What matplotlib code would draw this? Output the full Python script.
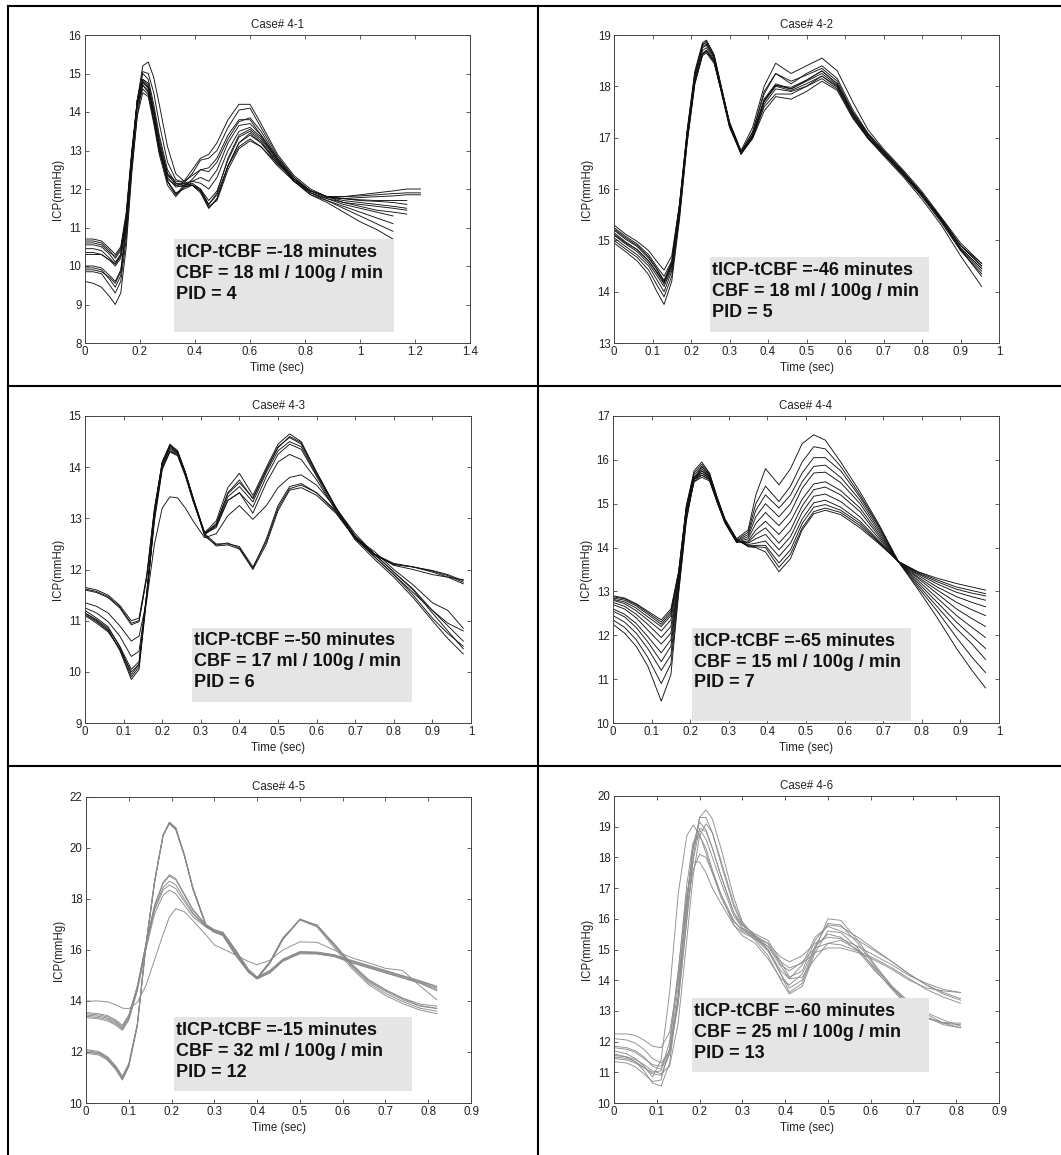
import numpy as np
import matplotlib
matplotlib.use('Agg')
import matplotlib.pyplot as plt
from matplotlib.patches import Rectangle
from matplotlib.lines import Line2D
from matplotlib.ticker import FuncFormatter

plt.rcParams['font.family'] = ['Liberation Sans', 'DejaVu Sans']
nan = np.nan

# ---------------- data ----------------
titles = ["Case# 4-1", "Case# 4-2", "Case# 4-3", "Case# 4-4", "Case# 4-5", "Case# 4-6"]
notes = [
    ["tICP-tCBF =-18 minutes", "CBF = 18 ml / 100g / min", "PID = 4"],
    ["tICP-tCBF =-46 minutes", "CBF = 18 ml / 100g / min", "PID = 5"],
    ["tICP-tCBF =-50 minutes", "CBF = 17 ml / 100g / min", "PID = 6"],
    ["tICP-tCBF =-65 minutes", "CBF = 15 ml / 100g / min", "PID = 7"],
    ["tICP-tCBF =-15 minutes", "CBF = 32 ml / 100g / min", "PID = 12"],
    ["tICP-tCBF =-60 minutes", "CBF = 25 ml / 100g / min", "PID = 13"],
]
x_label = "Time (sec)"
y_label = "ICP(mmHg)"

# Case 4-1
t1 = [0, 0.03, 0.06, 0.09, 0.11, 0.13, 0.15, 0.17, 0.19, 0.21, 0.23, 0.25, 0.27, 0.30, 0.33, 0.36, 0.39,
      0.42, 0.45, 0.48, 0.52, 0.56, 0.60, 0.64, 0.70, 0.76, 0.82, 0.88, 0.94, 1.00, 1.06, 1.12, 1.17, 1.22]
icp1 = [
    [10.7, 10.7, 10.65, 10.45, 10.3, 10.5, 11.4, 13.0, 14.3, 14.8, 14.6, 13.9, 13.1, 12.3, 12.05, 12.1, 12.1, 11.95, 11.6, 11.85, 12.6, 13.1, 13.3, 13.1, 12.6, 12.2, 11.95, 11.8, 11.8, 11.85, 11.9, 11.95, 12.0, 12.0],
    [10.65, 10.65, 10.6, 10.4, 10.2, 10.4, 11.3, 12.9, 14.2, 14.7, 14.5, 13.8, 13.0, 12.25, 12.1, 12.15, 12.1, 11.9, 11.5, 11.75, 12.6, 13.2, 13.45, 13.2, 12.65, 12.25, 11.95, 11.78, 11.75, 11.78, 11.8, 11.82, 11.85, 11.85],
    [10.55, 10.55, 10.5, 10.3, 10.1, 10.3, 11.2, 12.9, 14.3, 14.85, 14.7, 14.0, 13.2, 12.4, 12.2, 12.2, 12.35, 12.5, 12.45, 12.7, 13.3, 13.75, 13.85, 13.5, 12.8, 12.3, 11.95, 11.8, 11.7, 11.65, 11.6, 11.55, 11.5, nan],
    [10.45, 10.45, 10.4, 10.2, 10.05, 10.25, 11.1, 12.7, 14.3, 15.2, 15.3, 14.9, 14.2, 13.1, 12.4, 12.2, 12.5, 12.8, 12.9, 13.2, 13.8, 14.2, 14.2, 13.7, 12.9, 12.35, 12.0, 11.8, 11.65, 11.55, 11.45, 11.4, 11.35, nan],
    [10.35, 10.35, 10.3, 10.15, 10.0, 10.2, 11.1, 12.8, 14.3, 15.05, 15.0, 14.5, 13.7, 12.7, 12.25, 12.15, 12.4, 12.75, 12.8, 13.0, 13.6, 14.05, 14.1, 13.6, 12.85, 12.3, 11.95, 11.8, 11.75, 11.7, 11.68, 11.65, 11.6, nan],
    [10.3, 10.3, 10.3, 10.15, 10.05, 10.3, 11.3, 12.9, 14.1, 14.6, 14.45, 13.8, 13.0, 12.2, 11.9, 12.0, 12.1, 11.95, 11.55, 11.7, 12.5, 13.05, 13.25, 13.1, 12.65, 12.25, 11.95, 11.8, 11.8, 11.82, 11.85, 11.88, 11.9, 11.9],
    [10.0, 10.0, 9.95, 9.75, 9.6, 9.9, 11.0, 12.8, 14.2, 14.7, 14.55, 13.85, 13.0, 12.2, 11.85, 12.1, 12.15, 12.0, 11.7, 11.95, 12.75, 13.35, 13.5, 13.25, 12.7, 12.2, 11.9, 11.75, 11.6, 11.5, 11.4, 11.3, nan, nan],
    [9.95, 9.95, 9.9, 9.65, 9.45, 9.75, 10.9, 12.7, 14.2, 14.85, 14.75, 14.1, 13.3, 12.4, 12.1, 12.05, 12.25, 12.5, 12.55, 12.8, 13.4, 13.8, 13.8, 13.4, 12.75, 12.2, 11.85, 11.7, 11.55, 11.4, 11.25, 11.1, nan, nan],
    [9.85, 9.85, 9.8, 9.5, 9.3, 9.6, 10.7, 12.5, 13.9, 14.5, 14.4, 13.7, 12.9, 12.1, 11.8, 12.05, 12.1, 11.95, 11.5, 11.75, 12.6, 13.2, 13.4, 13.2, 12.7, 12.2, 11.9, 11.7, 11.5, 11.3, 11.1, 10.9, nan, nan],
    [9.6, 9.55, 9.45, 9.2, 9.0, 9.3, 10.5, 12.4, 13.9, 14.75, 14.65, 14.0, 13.1, 12.2, 11.85, 12.05, 12.1, 12.0, 11.6, 11.9, 12.8, 13.4, 13.55, 13.3, 12.75, 12.2, 11.85, 11.65, 11.4, 11.15, 10.95, 10.7, nan, nan],
    [10.6, 10.6, 10.55, 10.35, 10.25, 10.45, 11.3, 12.9, 14.25, 14.8, 14.65, 13.95, 13.15, 12.35, 12.15, 12.15, 12.2, 12.15, 12.0, 12.3, 13.0, 13.5, 13.6, 13.35, 12.75, 12.25, 11.95, 11.8, 11.75, 11.72, 11.7, 11.7, 11.7, nan],
    [9.9, 9.9, 9.85, 9.7, 9.55, 9.85, 11.0, 12.8, 14.3, 15.0, 14.85, 14.2, 13.4, 12.5, 12.15, 12.1, 12.2, 12.3, 12.2, 12.5, 13.2, 13.65, 13.7, 13.4, 12.8, 12.25, 11.9, 11.75, 11.65, 11.6, 11.55, 11.5, 11.45, nan],
]

# Case 4-2
t2 = [0, 0.03, 0.06, 0.09, 0.11, 0.13, 0.15, 0.17, 0.19, 0.21, 0.23, 0.24, 0.26, 0.28, 0.30, 0.33,
      0.36, 0.39, 0.42, 0.46, 0.50, 0.54, 0.58, 0.62, 0.66, 0.70, 0.75, 0.80, 0.85, 0.90, 0.955]
icp2 = [
    [15.3, 15.12, 14.98, 14.8, 14.6, 14.42, 14.7, 15.7, 17.05, 18.1, 18.62, 18.7, 18.5, 17.9, 17.3, 16.75, 17.2, 18.0, 18.45, 18.25, 18.4, 18.55, 18.3, 17.7, 17.15, 16.78, 16.38, 15.95, 15.45, 14.95, 14.55],
    [15.25, 15.08, 14.93, 14.72, 14.5, 14.3, 14.6, 15.7, 17.15, 18.3, 18.85, 18.9, 18.62, 17.95, 17.3, 16.72, 17.12, 17.9, 18.25, 18.1, 18.22, 18.35, 18.1, 17.5, 17.05, 16.72, 16.32, 15.9, 15.42, 14.9, 14.5],
    [15.2, 15.02, 14.88, 14.65, 14.45, 14.2, 14.55, 15.65, 17.1, 18.22, 18.8, 18.88, 18.6, 17.93, 17.27, 16.7, 17.05, 17.75, 18.05, 17.95, 18.1, 18.25, 18.02, 17.45, 17.0, 16.68, 16.28, 15.86, 15.38, 14.85, 14.45],
    [15.15, 14.97, 14.82, 14.6, 14.38, 14.15, 14.5, 15.6, 17.05, 18.2, 18.75, 18.8, 18.55, 17.9, 17.25, 16.68, 17.02, 17.7, 18.0, 17.92, 18.05, 18.2, 17.98, 17.42, 17.0, 16.7, 16.3, 15.87, 15.38, 14.82, 14.4],
    [15.1, 14.93, 14.78, 14.55, 14.33, 14.1, 14.45, 15.55, 17.0, 18.15, 18.7, 18.75, 18.52, 17.9, 17.25, 16.7, 17.0, 17.65, 17.95, 17.9, 18.0, 18.15, 17.95, 17.4, 16.98, 16.68, 16.28, 15.85, 15.35, 14.8, 14.35],
    [15.05, 14.88, 14.72, 14.5, 14.25, 14.0, 14.4, 15.5, 16.95, 18.1, 18.65, 18.7, 18.48, 17.85, 17.22, 16.68, 17.05, 17.72, 18.02, 17.98, 18.12, 18.3, 18.05, 17.5, 17.08, 16.75, 16.35, 15.9, 15.42, 14.9, 14.5],
    [15.0, 14.83, 14.67, 14.42, 14.15, 13.9, 14.3, 15.45, 16.9, 18.05, 18.6, 18.65, 18.45, 17.85, 17.2, 16.7, 17.0, 17.6, 17.85, 17.85, 18.0, 18.2, 18.0, 17.45, 17.05, 16.72, 16.33, 15.9, 15.4, 14.82, 14.3],
    [14.95, 14.78, 14.6, 14.33, 14.02, 13.75, 14.2, 15.4, 16.9, 18.05, 18.62, 18.68, 18.48, 17.88, 17.22, 16.68, 16.98, 17.52, 17.8, 17.75, 17.9, 18.1, 17.92, 17.38, 16.98, 16.65, 16.25, 15.8, 15.3, 14.7, 14.1],
    [15.22, 15.05, 14.9, 14.68, 14.46, 14.22, 14.58, 15.68, 17.12, 18.25, 18.82, 18.85, 18.6, 17.95, 17.3, 16.72, 17.1, 17.85, 18.25, 18.05, 18.25, 18.4, 18.15, 17.55, 17.08, 16.75, 16.35, 15.92, 15.43, 14.9, 14.55],
    [15.12, 14.95, 14.82, 14.6, 14.4, 14.18, 14.52, 15.62, 17.08, 18.2, 18.78, 18.82, 18.57, 17.92, 17.27, 16.7, 17.05, 17.72, 18.02, 17.95, 18.12, 18.3, 18.05, 17.47, 17.02, 16.7, 16.3, 15.88, 15.4, 14.85, 14.45],
]

# Case 4-3
t3 = [0, 0.03, 0.06, 0.09, 0.12, 0.14, 0.16, 0.18, 0.20, 0.22, 0.24, 0.26, 0.28, 0.31, 0.34, 0.37,
      0.40, 0.435, 0.47, 0.50, 0.53, 0.56, 0.60, 0.65, 0.70, 0.75, 0.80, 0.85, 0.90, 0.94, 0.98]
icp3 = [
    [11.65, 11.6, 11.5, 11.3, 11.0, 11.05, 11.9, 13.2, 14.1, 14.43, 14.3, 13.9, 13.4, 12.7, 12.5, 12.5, 12.45, 12.05, 12.55, 13.2, 13.58, 13.65, 13.5, 13.15, 12.65, 12.3, 12.1, 12.05, 11.97, 11.88, 11.75],
    [11.6, 11.55, 11.45, 11.25, 10.92, 10.98, 11.85, 13.15, 14.05, 14.4, 14.28, 13.88, 13.38, 12.65, 12.48, 12.52, 12.42, 12.02, 12.6, 13.25, 13.62, 13.68, 13.5, 13.12, 12.62, 12.28, 12.1, 12.05, 11.98, 11.9, 11.78],
    [11.62, 11.57, 11.47, 11.27, 10.95, 11.0, 11.85, 13.18, 14.08, 14.42, 14.3, 13.9, 13.4, 12.68, 12.46, 12.48, 12.4, 12.0, 12.5, 13.15, 13.55, 13.6, 13.45, 13.1, 12.6, 12.3, 12.12, 12.05, 11.95, 11.85, 11.72],
    [11.35, 11.28, 11.15, 10.9, 10.6, 10.7, 11.4, 12.5, 13.2, 13.42, 13.4, 13.2, 12.95, 12.62, 12.7, 13.05, 13.25, 12.98, 13.25, 13.6, 13.8, 13.85, 13.65, 13.2, 12.7, 12.3, 12.08, 12.0, 11.9, 11.85, 11.8],
    [11.25, 11.15, 10.98, 10.7, 10.3, 10.4, 11.5, 12.95, 13.95, 14.3, 14.25, 13.88, 13.38, 12.72, 12.85, 13.35, 13.5, 13.1, 13.7, 14.1, 14.25, 14.15, 13.75, 13.15, 12.6, 12.25, 11.9, 11.55, 11.2, 10.95, 10.8],
    [11.2, 11.05, 10.88, 10.5, 9.95, 10.15, 11.55, 13.1, 14.1, 14.45, 14.32, 13.9, 13.4, 12.72, 12.95, 13.6, 13.88, 13.45, 14.0, 14.45, 14.65, 14.5, 13.9, 13.2, 12.62, 12.25, 11.9, 11.5, 11.05, 10.75, 10.5],
    [11.15, 11.0, 10.82, 10.42, 9.85, 10.05, 11.45, 13.05, 14.05, 14.38, 14.28, 13.88, 13.38, 12.7, 12.9, 13.5, 13.75, 13.38, 13.95, 14.4, 14.58, 14.45, 13.88, 13.2, 12.65, 12.3, 11.95, 11.6, 11.15, 10.8, 10.45],
    [11.12, 10.98, 10.8, 10.45, 9.9, 10.1, 11.5, 13.05, 14.0, 14.32, 14.25, 13.85, 13.35, 12.68, 12.85, 13.42, 13.62, 13.32, 13.9, 14.32, 14.5, 14.4, 13.85, 13.2, 12.65, 12.3, 11.95, 11.62, 11.2, 10.9, 10.6],
    [11.1, 10.95, 10.78, 10.45, 10.0, 10.15, 11.5, 13.0, 13.98, 14.3, 14.22, 13.82, 13.33, 12.7, 12.82, 13.35, 13.5, 13.22, 13.82, 14.25, 14.45, 14.35, 13.82, 13.15, 12.58, 12.2, 11.85, 11.45, 11.0, 10.65, 10.35],
    [11.15, 11.02, 10.85, 10.5, 10.05, 10.2, 11.55, 13.1, 14.05, 14.35, 14.27, 13.87, 13.37, 12.7, 12.88, 13.48, 13.7, 13.4, 13.95, 14.38, 14.6, 14.48, 13.9, 13.22, 12.62, 12.35, 12.0, 11.7, 11.35, 11.2, 10.85],
]

# Case 4-4
t4 = [0, 0.03, 0.06, 0.09, 0.125, 0.15, 0.17, 0.19, 0.21, 0.23, 0.25, 0.27, 0.29, 0.32, 0.35, 0.37,
      0.395, 0.43, 0.46, 0.49, 0.52, 0.55, 0.59, 0.64, 0.69, 0.74, 0.79, 0.84, 0.89, 0.93, 0.965]
icp4 = [
    [12.9, 12.85, 12.72, 12.55, 12.35, 12.6, 13.45, 14.95, 15.75, 15.95, 15.7, 15.15, 14.65, 14.2, 14.02, 14.0, 13.9, 13.45, 13.75, 14.4, 14.77, 14.85, 14.75, 14.45, 14.08, 13.68, 13.45, 13.3, 13.18, 13.1, 13.03],
    [12.88, 12.83, 12.7, 12.52, 12.3, 12.55, 13.45, 14.95, 15.7, 15.9, 15.68, 15.13, 14.63, 14.18, 14.03, 14.02, 14.0, 13.55, 13.85, 14.45, 14.82, 14.9, 14.8, 14.5, 14.1, 13.68, 13.44, 13.26, 13.1, 13.02, 12.95],
    [12.85, 12.8, 12.67, 12.48, 12.25, 12.5, 13.4, 14.9, 15.65, 15.85, 15.65, 15.1, 14.62, 14.17, 14.05, 14.05, 14.05, 13.65, 13.95, 14.55, 14.92, 14.98, 14.85, 14.55, 14.12, 13.67, 13.42, 13.22, 13.05, 12.96, 12.9],
    [12.82, 12.76, 12.62, 12.42, 12.2, 12.45, 13.4, 14.9, 15.6, 15.8, 15.62, 15.08, 14.6, 14.15, 14.07, 14.1, 14.15, 13.8, 14.1, 14.65, 15.02, 15.08, 14.92, 14.6, 14.15, 13.67, 13.4, 13.17, 12.98, 12.88, 12.8],
    [12.8, 12.72, 12.56, 12.35, 12.1, 12.35, 13.35, 14.85, 15.6, 15.75, 15.6, 15.07, 14.6, 14.15, 14.1, 14.2, 14.3, 13.95, 14.25, 14.8, 15.17, 15.22, 15.05, 14.7, 14.2, 13.67, 13.37, 13.1, 12.88, 12.75, 12.65],
    [12.75, 12.66, 12.48, 12.25, 11.95, 12.2, 13.3, 14.85, 15.55, 15.7, 15.57, 15.05, 14.58, 14.13, 14.12, 14.3, 14.45, 14.1, 14.4, 14.95, 15.32, 15.38, 15.2, 14.82, 14.25, 13.67, 13.33, 13.03, 12.75, 12.58, 12.45],
    [12.7, 12.6, 12.4, 12.12, 11.8, 12.05, 13.25, 14.8, 15.55, 15.65, 15.55, 15.03, 14.57, 14.12, 14.15, 14.4, 14.6, 14.3, 14.6, 15.1, 15.45, 15.5, 15.3, 14.9, 14.3, 13.67, 13.3, 12.95, 12.6, 12.38, 12.2],
    [12.6, 12.48, 12.27, 11.97, 11.6, 11.9, 13.2, 14.75, 15.5, 15.6, 15.52, 15.02, 14.56, 14.12, 14.2, 14.55, 14.8, 14.5, 14.8, 15.35, 15.7, 15.72, 15.48, 15.0, 14.35, 13.67, 13.25, 12.85, 12.45, 12.18, 11.95],
    [12.55, 12.42, 12.18, 11.85, 11.4, 11.75, 13.15, 14.7, 15.5, 15.65, 15.55, 15.05, 14.58, 14.13, 14.25, 14.7, 15.0, 14.7, 15.0, 15.5, 15.85, 15.88, 15.6, 15.08, 14.4, 13.67, 13.2, 12.75, 12.3, 11.98, 11.7],
    [12.45, 12.3, 12.05, 11.7, 11.2, 11.55, 13.1, 14.7, 15.55, 15.7, 15.58, 15.08, 14.6, 14.15, 14.3, 14.85, 15.2, 14.9, 15.2, 15.7, 16.05, 16.05, 15.75, 15.15, 14.45, 13.67, 13.15, 12.65, 12.15, 11.8, 11.45],
    [12.35, 12.18, 11.9, 11.5, 10.9, 11.35, 13.0, 14.65, 15.55, 15.75, 15.62, 15.1, 14.62, 14.17, 14.35, 15.0, 15.4, 15.05, 15.4, 15.95, 16.3, 16.25, 15.85, 15.2, 14.48, 13.67, 13.1, 12.55, 11.95, 11.5, 11.15],
    [12.25, 12.05, 11.75, 11.3, 10.5, 11.1, 12.95, 14.6, 15.55, 15.85, 15.65, 15.12, 14.65, 14.2, 14.4, 15.2, 15.8, 15.43, 15.8, 16.37, 16.57, 16.45, 15.95, 15.27, 14.51, 13.67, 13.05, 12.4, 11.7, 11.2, 10.8],
]

# Case 4-5
t5 = [0, 0.03, 0.05, 0.07, 0.085, 0.1, 0.12, 0.14, 0.16, 0.18, 0.195, 0.21, 0.23, 0.25, 0.28, 0.30,
      0.32, 0.35, 0.38, 0.40, 0.43, 0.46, 0.50, 0.54, 0.58, 0.62, 0.66, 0.70, 0.74, 0.78, 0.82]
icp5 = [
    [12.05, 11.98, 11.78, 11.4, 11.0, 11.5, 13.1, 16.2, 18.65, 20.45, 20.98, 20.75, 19.72, 18.42, 17.0, 16.72, 16.6, 15.82, 15.15, 14.9, 15.52, 16.45, 17.2, 16.98, 16.22, 15.42, 14.78, 14.38, 14.05, 13.8, 13.7],
    [12.0, 11.93, 11.72, 11.33, 10.92, 11.45, 13.05, 16.15, 18.62, 20.5, 21.02, 20.78, 19.7, 18.38, 16.95, 16.7, 16.56, 15.78, 15.12, 14.86, 15.5, 16.42, 17.22, 16.95, 16.18, 15.38, 14.72, 14.3, 13.98, 13.72, 13.6],
    [11.95, 11.88, 11.68, 11.3, 10.9, 11.42, 13.0, 16.1, 18.6, 20.48, 21.0, 20.8, 19.75, 18.45, 17.02, 16.75, 16.62, 15.85, 15.18, 14.92, 15.55, 16.48, 17.18, 16.9, 16.1, 15.3, 14.65, 14.22, 13.9, 13.65, 13.5],
    [12.1, 12.02, 11.82, 11.45, 11.05, 11.55, 13.1, 16.22, 18.7, 20.52, 20.95, 20.7, 19.68, 18.38, 16.98, 16.7, 16.58, 15.8, 15.14, 14.88, 15.48, 16.4, 17.18, 16.98, 16.25, 15.48, 14.85, 14.45, 14.12, 13.88, 13.8],
    [12.0, 11.95, 11.76, 11.38, 10.98, 11.48, 13.05, 16.18, 18.65, 20.48, 20.97, 20.74, 19.7, 18.4, 16.97, 16.72, 16.6, 15.82, 15.16, 14.9, 15.5, 16.44, 17.2, 16.95, 16.2, 15.42, 14.8, 14.42, 14.1, 13.82, 13.72],
    [13.55, 13.5, 13.43, 13.25, 13.05, 13.45, 14.6, 16.2, 17.6, 18.45, 18.7, 18.55, 18.0, 17.45, 16.95, 16.75, 16.65, 15.95, 15.2, 14.9, 15.15, 15.6, 15.9, 15.88, 15.78, 15.55, 15.35, 15.15, 14.95, 14.75, 14.5],
    [13.45, 13.4, 13.33, 13.15, 12.95, 13.35, 14.5, 16.2, 17.7, 18.6, 18.9, 18.75, 18.15, 17.55, 16.98, 16.78, 16.68, 15.98, 15.22, 14.92, 15.18, 15.62, 15.92, 15.9, 15.8, 15.58, 15.38, 15.18, 14.98, 14.78, 14.55],
    [13.4, 13.35, 13.28, 13.1, 12.9, 13.3, 14.45, 16.1, 17.55, 18.35, 18.55, 18.4, 17.9, 17.4, 16.92, 16.72, 16.62, 15.92, 15.18, 14.88, 15.12, 15.58, 15.88, 15.86, 15.76, 15.52, 15.32, 15.12, 14.92, 14.72, 14.45],
    [13.35, 13.3, 13.22, 13.05, 12.85, 13.25, 14.4, 16.0, 17.4, 18.15, 18.35, 18.2, 17.75, 17.3, 16.9, 16.7, 16.6, 15.9, 15.16, 14.86, 15.1, 15.55, 15.85, 15.84, 15.74, 15.5, 15.3, 15.1, 14.9, 14.7, 14.4],
    [13.5, 13.45, 13.38, 13.2, 13.0, 13.4, 14.55, 16.25, 17.75, 18.65, 18.95, 18.8, 18.2, 17.6, 17.0, 16.8, 16.7, 16.0, 15.24, 14.94, 15.2, 15.64, 15.94, 15.92, 15.82, 15.6, 15.4, 15.2, 15.0, 14.8, 14.58],
    [14.0, 14.0, 13.97, 13.85, 13.72, 13.7, 13.95, 14.6, 15.6, 16.6, 17.3, 17.62, 17.5, 17.15, 16.6, 16.2, 16.05, 15.8, 15.55, 15.42, 15.6, 16.0, 16.32, 16.3, 16.0, 15.7, 15.5, 15.28, 15.2, 14.6, 14.05],
]

# Case 4-6
t6 = [0, 0.03, 0.05, 0.07, 0.09, 0.11, 0.13, 0.15, 0.17, 0.185, 0.20, 0.215, 0.23, 0.25, 0.28, 0.30,
      0.33, 0.36, 0.39, 0.41, 0.44, 0.47, 0.50, 0.53, 0.57, 0.61, 0.65, 0.69, 0.73, 0.77, 0.81]
icp6 = [
    [12.25, 12.25, 12.2, 12.05, 11.85, 11.8, 12.3, 14.0, 16.3, 17.6, 18.1, 18.0, 17.5, 16.8, 15.95, 15.6, 15.4, 15.2, 14.75, 14.6, 14.8, 15.2, 15.4, 15.35, 15.1, 14.8, 14.5, 14.15, 13.9, 13.7, 13.6],
    [12.1, 12.05, 11.95, 11.75, 11.45, 11.3, 11.7, 13.4, 16.4, 18.3, 19.3, 19.55, 19.25, 18.3, 16.7, 15.9, 15.4, 15.0, 14.2, 13.6, 13.9, 15.0, 16.0, 15.95, 15.3, 14.5, 13.8, 13.2, 12.8, 12.55, 12.45],
    [11.85, 11.8, 11.7, 11.5, 11.2, 11.1, 11.6, 13.2, 16.0, 18.0, 19.3, 19.3, 18.8, 17.8, 16.4, 15.8, 15.35, 14.95, 14.2, 13.75, 14.0, 15.1, 15.85, 15.8, 15.2, 14.45, 13.75, 13.15, 12.8, 12.6, 12.55],
    [11.7, 11.6, 11.45, 11.2, 10.85, 11.4, 13.6, 16.8, 18.7, 19.05, 18.75, 18.15, 17.5, 16.7, 15.9, 15.65, 15.45, 15.0, 14.3, 14.05, 14.5, 15.4, 15.75, 15.6, 15.3, 14.95, 14.6, 14.2, 13.85, 13.6, 13.4],
    [11.6, 11.5, 11.35, 11.05, 10.65, 10.55, 11.3, 13.5, 16.6, 18.4, 19.15, 18.9, 18.3, 17.4, 16.2, 15.7, 15.3, 14.8, 14.0, 13.55, 13.8, 14.9, 15.6, 15.55, 15.05, 14.35, 13.7, 13.1, 12.75, 12.62, 12.6],
    [11.5, 11.45, 11.35, 11.15, 10.95, 10.9, 11.6, 13.8, 16.6, 18.3, 18.9, 18.6, 18.0, 17.2, 16.1, 15.7, 15.45, 15.2, 14.5, 14.3, 14.6, 15.05, 15.2, 15.15, 14.95, 14.7, 14.4, 14.05, 13.7, 13.45, 13.25],
    [11.45, 11.4, 11.3, 11.15, 11.0, 11.05, 12.0, 14.3, 16.8, 17.85, 17.85, 17.5, 17.0, 16.5, 15.8, 15.55, 15.35, 15.1, 14.6, 14.4, 14.55, 14.9, 15.05, 15.05, 14.9, 14.65, 14.35, 14.0, 13.75, 13.65, 13.6],
    [11.35, 11.3, 11.18, 10.95, 10.7, 10.75, 11.8, 14.2, 17.1, 18.5, 18.7, 18.3, 17.6, 16.8, 15.8, 15.45, 15.2, 14.7, 14.05, 13.85, 14.2, 15.1, 15.5, 15.4, 14.95, 14.3, 13.75, 13.25, 12.9, 12.6, 12.45],
    [11.8, 11.75, 11.65, 11.45, 11.25, 11.2, 11.7, 13.3, 15.9, 17.9, 18.95, 18.85, 18.3, 17.4, 16.2, 15.8, 15.5, 15.3, 14.6, 14.1, 14.3, 15.3, 15.8, 15.75, 15.4, 15.0, 14.6, 14.2, 13.85, 13.55, 13.35],
    [11.55, 11.5, 11.42, 11.25, 11.05, 10.95, 11.2, 12.6, 15.3, 17.4, 18.7, 19.1, 18.8, 17.9, 16.5, 15.85, 15.45, 15.1, 14.45, 14.05, 14.1, 14.7, 15.2, 15.3, 15.0, 14.4, 13.8, 13.3, 12.95, 12.7, 12.5],
]

times = [t1, t2, t3, t4, t5, t6]
traces = [icp1, icp2, icp3, icp4, icp5, icp6]
x_ticks = [[0, 0.2, 0.4, 0.6, 0.8, 1, 1.2, 1.4],
           [0, 0.1, 0.2, 0.3, 0.4, 0.5, 0.6, 0.7, 0.8, 0.9, 1],
           [0, 0.1, 0.2, 0.3, 0.4, 0.5, 0.6, 0.7, 0.8, 0.9, 1],
           [0, 0.1, 0.2, 0.3, 0.4, 0.5, 0.6, 0.7, 0.8, 0.9, 1],
           [0, 0.1, 0.2, 0.3, 0.4, 0.5, 0.6, 0.7, 0.8, 0.9],
           [0, 0.1, 0.2, 0.3, 0.4, 0.5, 0.6, 0.7, 0.8, 0.9]]
y_ticks = [list(range(8, 17)), list(range(13, 20)), list(range(9, 16)),
           list(range(10, 18)), list(range(10, 23, 2)), list(range(10, 21))]

# ---------------- layout / style ----------------
W, H = 1061, 1155
axes_px = [(85, 35, 470, 343), (614, 35, 999, 343),
           (85, 416, 471, 723), (613, 416, 999, 723),
           (86, 797, 471, 1103), (614, 796, 999, 1103)]
boxes = [(0.324, 1.124, 8.29, 10.70), (0.249, 0.818, 13.22, 14.67),
         (0.278, 0.847, 9.41, 10.865), (0.205, 0.773, 10.05, 12.17),
         (0.206, 0.762, 10.46, 13.37), (0.182, 0.737, 11.01, 13.42)]
line_colors = ['#111111', '#111111', '#111111', '#111111', '#8a8a8a', '#8e8e8e']

fig = plt.figure(figsize=(W / 100, H / 100), dpi=100)
fig.patch.set_facecolor('white')

fmt = FuncFormatter(lambda v, p: f"{v:g}")

for i in range(6):
    l, t, r, b = axes_px[i]
    ax = fig.add_axes([l / W, 1 - b / H, (r - l) / W, (b - t) / H])
    xt = x_ticks[i]
    yt = y_ticks[i]
    ax.set_xlim(xt[0], xt[-1])
    ax.set_ylim(yt[0], yt[-1])
    for row in traces[i]:
        assert len(row) == len(times[i]), (i, len(row), len(times[i]))
        ax.plot(times[i], row, color=line_colors[i], lw=0.65, zorder=2)
    x0, x1, y0, y1 = boxes[i]
    ax.add_patch(Rectangle((x0, y0), x1 - x0, y1 - y0, facecolor='#e5e5e5',
                           edgecolor='none', zorder=3))
    ax.annotate("\n".join(notes[i]), xy=(x0, y1), xytext=(1.2, -3.5),
                textcoords='offset points', ha='left', va='top', fontsize=13,
                fontweight='bold', linespacing=1.3, color='#111111', zorder=4)
    ax.set_xticks(xt)
    ax.set_yticks(yt)
    ax.xaxis.set_major_formatter(fmt)
    ax.yaxis.set_major_formatter(fmt)
    ax.tick_params(direction='in', length=3, width=0.6, top=True, right=True,
                   labelsize=8.3, pad=2.5, color='#444444', labelcolor='#222222')
    for sp in ax.spines.values():
        sp.set_linewidth(0.7)
        sp.set_color('#444444')
    ax.set_title(titles[i], fontsize=8.3, pad=5, color='#222222')
    ax.set_xlabel(x_label, fontsize=8.3, labelpad=2.5, color='#222222')
    ax.set_ylabel(y_label, fontsize=8.3, labelpad=3, color='#222222')

# cell borders
lw = 1.5
ytop = 1 - 6 / H
xl = 8 / W
fig.add_artist(Line2D([xl, 1], [ytop, ytop], color='k', lw=lw, transform=fig.transFigure))
fig.add_artist(Line2D([xl, xl], [0, ytop], color='k', lw=lw, transform=fig.transFigure))
fig.add_artist(Line2D([538 / W, 538 / W], [0, ytop], color='k', lw=lw, transform=fig.transFigure))
for yy in (386, 766):
    fig.add_artist(Line2D([xl, 1], [1 - yy / H, 1 - yy / H], color='k', lw=lw,
                          transform=fig.transFigure))

fig.savefig('out.png', dpi=100, facecolor='white')
